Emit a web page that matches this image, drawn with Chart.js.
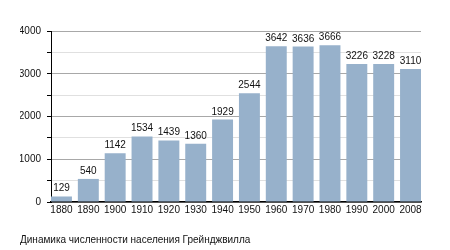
<!DOCTYPE html>
<html>
<head>
<meta charset="utf-8">
<script src="https://cdn.jsdelivr.net/npm/chart.js@4"></script>
<style>
  html, body { margin: 0; padding: 0; background: #fff; }
  #wrap { width: 450px; height: 250px; }
</style>
</head>
<body>
<div id="wrap"><canvas id="popChart"></canvas></div>
<script>
// Population of Grangeville by census year
const years = ['1880', '1890', '1900', '1910', '1920', '1930', '1940', '1950', '1960', '1970', '1980', '1990', '2000', '2008'];
const population = [129, 540, 1142, 1534, 1439, 1360, 1929, 2544, 3642, 3636, 3666, 3226, 3228, 3110];
const yMax = 4000;
const yStep = 500;
const yLabelStep = 1000;
const caption = 'Динамика численности населения Грейнджвилла';

const FONT = '"Liberation Sans", Arial, sans-serif';

// draws the value above each bar
const valueLabels = {
    id: 'valueLabels',
    afterDatasetsDraw(chart) {
        const ctx = chart.ctx;
        const meta = chart.getDatasetMeta(0);
        ctx.save();
        ctx.font = '10px ' + FONT;
        ctx.fillStyle = '#111';
        ctx.textAlign = 'center';
        ctx.textBaseline = 'alphabetic';
        meta.data.forEach((bar, i) => {
            ctx.fillText(String(population[i]), bar.x, bar.y - 5);
        });
        ctx.restore();
    }
};

new Chart(document.getElementById('popChart'), {
    type: 'bar',
    data: {
        datasets: [{
            data: population.map((v, i) => ({ x: i, y: v })),
            backgroundColor: '#97b1cb',
            borderWidth: 0,
            barPercentage: 0.78,
            categoryPercentage: 1
        }]
    },
    options: {
        responsive: true,
        maintainAspectRatio: false,
        animation: false,
        layout: { padding: { left: 20, right: 29, top: 31, bottom: 4 } },
        plugins: {
            legend: { display: false },
            tooltip: { enabled: false },
            title: {
                display: true,
                text: caption,
                position: 'bottom',
                align: 'start',
                color: '#111',
                font: { family: FONT, size: 10, weight: 'normal' },
                padding: { top: 16, bottom: 0 }
            }
        },
        scales: {
            x: {
                type: 'linear',
                min: -0.39,
                max: years.length - 1 + 0.39,
                offset: false,
                afterBuildTicks: s => { s.ticks = years.map((_, i) => ({ value: i })); },
                ticks: {
                    color: '#111',
                    font: { family: FONT, size: 10 },
                    padding: 2,
                    autoSkip: false,
                    maxRotation: 0,
                    callback: v => years[v] ?? ''
                },
                grid: { display: false, drawTicks: false },
                border: { display: true, color: '#000', width: 1.5 }
            },
            y: {
                min: 0,
                max: yMax,
                afterFit: s => { s.width = 31; },
                ticks: {
                    stepSize: yStep,
                    color: '#111',
                    font: { family: FONT, size: 10 },
                    padding: 6,
                    callback: v => (v % yLabelStep === 0 ? v : '')
                },
                grid: {
                    color: c => (c.tick && c.tick.value % yLabelStep === 0 ? '#a8a8a8' : '#e0e0e0'),
                    tickColor: '#000',
                    tickLength: 4
                },
                border: { display: true, color: '#000', width: 1 }
            }
        }
    },
    plugins: [valueLabels]
});
</script>
</body>
</html>
